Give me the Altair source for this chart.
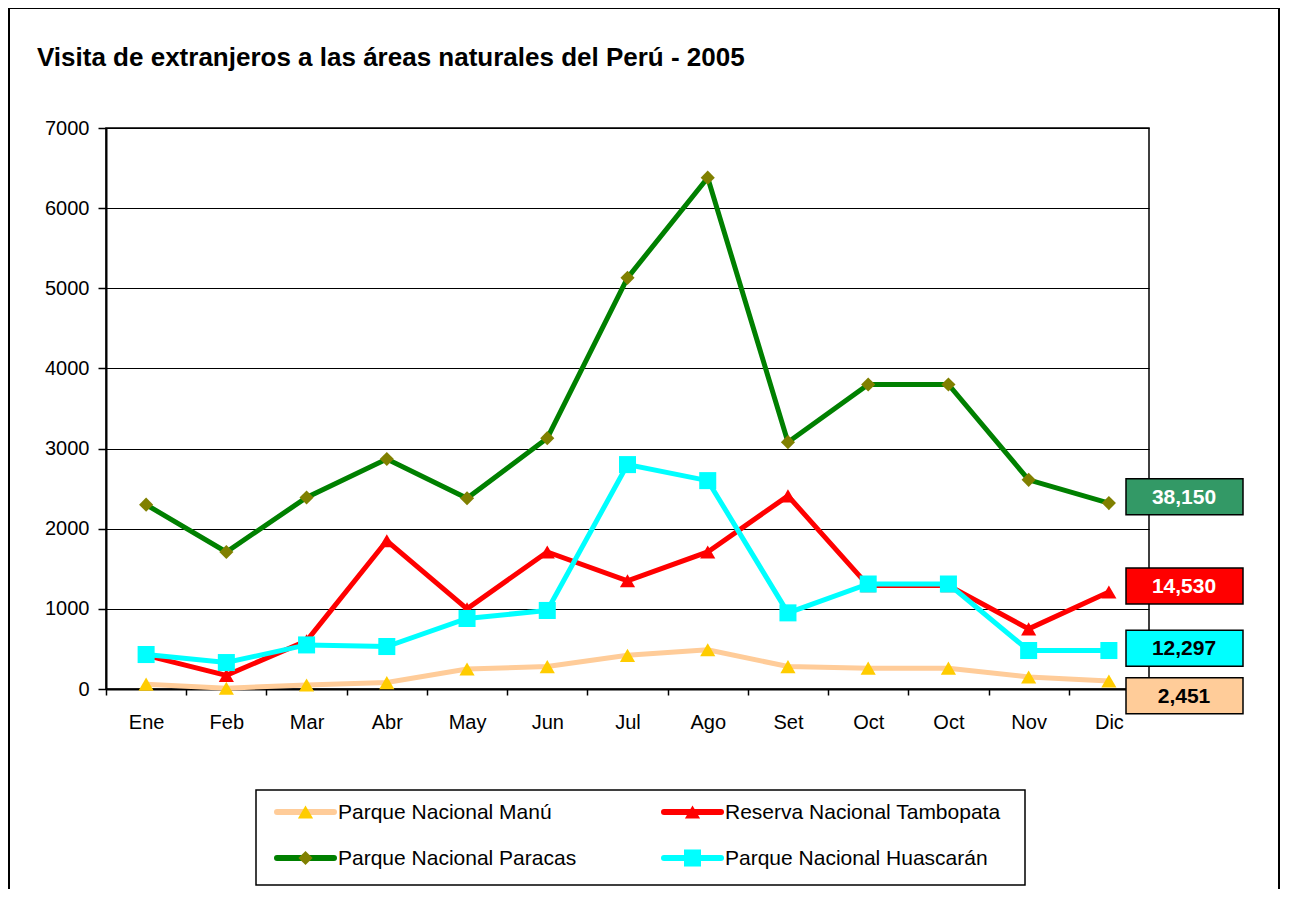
import altair as alt
import pandas as pd

# ---------------- data ----------------
months = ["Ene", "Feb", "Mar", "Abr", "May", "Jun", "Jul", "Ago", "Set", "Oct", "Oct", "Nov", "Dic"]
series_names = [
    "Parque Nacional Manú",
    "Reserva Nacional Tambopata",
    "Parque Nacional Paracas",
    "Parque Nacional Huascarán",
]
manu = [60, 10, 50, 80, 250, 280, 420, 490, 280, 260, 260, 150, 100]
tambopata = [420, 170, 600, 1850, 1000, 1710, 1350, 1710, 2410, 1290, 1290, 750, 1210]
paracas = [2300, 1710, 2390, 2870, 2380, 3130, 5130, 6380, 3080, 3800, 3800, 2610, 2320]
huascaran = [430, 330, 550, 530, 880, 980, 2800, 2600, 950, 1310, 1310, 480, 480]
series_values = [manu, tambopata, paracas, huascaran]
totals = ["2,451", "14,530", "38,150", "12,297"]
y_ticks = [0, 1000, 2000, 3000, 4000, 5000, 6000, 7000]

# ---------------- styles ----------------
FONT = "Liberation Sans"
line_colors = ["#FFCC99", "#FF0000", "#008000", "#00FFFF"]
marker_colors = ["#FFCC00", "#FF0000", "#808000", "#00FFFF"]
marker_shapes = ["triangle-up", "triangle-up", "diamond", "square"]
marker_sizes = [230, 230, 200, 290]
box_fill = ["#FFCC99", "#FF0000", "#339966", "#00FFFF"]
box_text = ["black", "white", "white", "black"]
box_center = [-85, 1285, 2400, 510]  # where the total boxes sit, in axis units

W, H = 1043, 561
YMAX = 7000
box_half = 18 * YMAX / H

label_expr = "[" + ",".join("'%s'" % m for m in months) + "][datum.value]"

x_axis = alt.Axis(
    title=None, labelExpr=label_expr, tickBand="extent", labelAngle=0,
    labelFont=FONT, labelFontSize=20, labelColor="black", labelPadding=17,
    tickColor="black", tickSize=6, tickWidth=1.5,
    domainColor="black", domainWidth=2, grid=False,
)
y_axis = alt.Axis(
    title=None, values=y_ticks, format="d",
    labelFont=FONT, labelFontSize=20, labelColor="black", labelPadding=9,
    tickColor="black", tickSize=8, tickWidth=1.5,
    domainColor="black", domainWidth=2,
    grid=True, gridColor="black", gridWidth=1.2,
)
x_scale = alt.Scale(type="band", paddingInner=0, paddingOuter=0)
y_scale = alt.Scale(domain=[0, YMAX], nice=False)


def X(field):
    return alt.X(field, type="ordinal", scale=x_scale, axis=x_axis)


def Y(field):
    return alt.Y(field, type="quantitative", scale=y_scale, axis=y_axis)


one = pd.DataFrame({"k": [0]})

layers = []

# outer frame of the whole chart
layers.append(
    alt.Chart(one).mark_rect(fillOpacity=0, stroke="black", strokeWidth=2).encode(
        x=alt.value(-97), x2=alt.value(1173), y=alt.value(-120), y2=alt.value(900)
    )
)

# series: line then markers, in Excel's drawing order
for name, vals, lc, mc, shp, sz in zip(series_names, series_values, line_colors,
                                       marker_colors, marker_shapes, marker_sizes):
    df = pd.DataFrame({"idx": list(range(len(months))), "value": vals, "series": name})
    base = alt.Chart(df)
    layers.append(base.mark_line(color=lc, strokeWidth=5).encode(x=X("idx"), y=Y("value")))
    layers.append(
        base.mark_point(shape=shp, size=sz, filled=True, fill=mc, opacity=1, strokeWidth=0)
        .encode(x=X("idx"), y=Y("value"))
    )

# total boxes at the right
box_df = pd.DataFrame({
    "lo": [c - box_half for c in box_center],
    "hi": [c + box_half for c in box_center],
    "mid": box_center,
    "fill": box_fill,
    "tcolor": box_text,
    "label": totals,
})
layers.append(
    alt.Chart(box_df).mark_rect(stroke="black", strokeWidth=1.5).encode(
        x=alt.value(1020), x2=alt.value(1137), y=Y("lo"), y2=alt.Y2("hi"),
        fill=alt.Fill("fill:N", scale=None),
    )
)
layers.append(
    alt.Chart(box_df).mark_text(font=FONT, fontSize=21, fontWeight="bold", baseline="middle", dy=1).encode(
        x=alt.value(1078), y=Y("mid"), text="label:N",
        color=alt.Color("tcolor:N", scale=None),
    )
)

# title
layers.append(
    alt.Chart(one).mark_text(
        text="Visita de extranjeros a las áreas naturales del Perú - 2005",
        font=FONT, fontSize=26, fontWeight="bold", align="left", baseline="alphabetic", color="black",
    ).encode(x=alt.value(-69), y=alt.value(-62))
)

# legend box
layers.append(
    alt.Chart(one).mark_rect(fill="white", stroke="black", strokeWidth=1.5).encode(
        x=alt.value(150), x2=alt.value(919), y=alt.value(662), y2=alt.value(757)
    )
)
col_x = [171, 558]
row_y = [684, 730]
seg = 57
leg_rows = []
for i, name in enumerate(series_names):
    cx = col_x[i % 2]
    ry = row_y[i // 2]
    leg_rows.append({
        "name": name, "x0": cx, "x1": cx + seg, "xm": cx + seg / 2, "xt": cx + seg + 4, "y": ry,
        "lc": line_colors[i], "mc": marker_colors[i], "shape": marker_shapes[i], "size": marker_sizes[i],
    })
leg = pd.DataFrame(leg_rows)
layers.append(
    alt.Chart(leg).mark_rule(strokeWidth=6, strokeCap="round").encode(
        x=alt.X("x0:Q", scale=None), x2="x1:Q", y=alt.Y("y:Q", scale=None),
        color=alt.Color("lc:N", scale=None),
    )
)
layers.append(
    alt.Chart(leg).mark_point(filled=True, opacity=1, strokeWidth=0).encode(
        x=alt.X("xm:Q", scale=None), y=alt.Y("y:Q", scale=None),
        fill=alt.Fill("mc:N", scale=None), shape=alt.Shape("shape:N", scale=None),
        size=alt.Size("size:Q", scale=None),
    )
)
layers.append(
    alt.Chart(leg).mark_text(font=FONT, fontSize=21, align="left", baseline="middle", color="black", dy=1).encode(
        x=alt.X("xt:Q", scale=None), y=alt.Y("y:Q", scale=None), text="name:N",
    )
)

chart = alt.layer(*layers).properties(
    width=W, height=H,
    padding={"left": 98, "top": 120, "right": 132, "bottom": 200},
    autosize=alt.AutoSizeParams(type="none"),
    background="white",
).configure_view(stroke="black", strokeWidth=1.5)

chart.save("out.html", embed_options={"renderer": "svg", "actions": False})
